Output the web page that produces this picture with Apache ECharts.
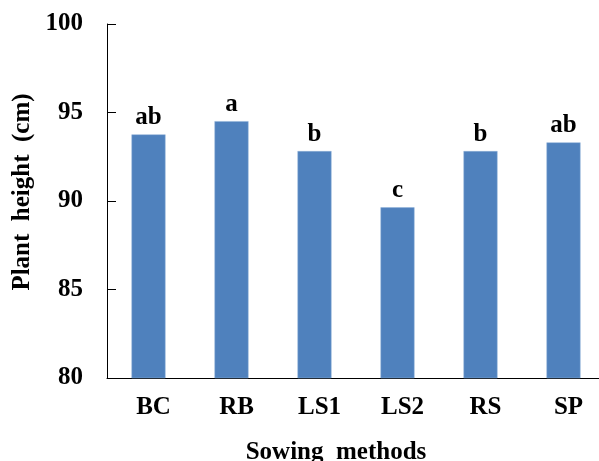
<!DOCTYPE html>
<html><head><meta charset="utf-8">
<script src="https://cdn.jsdelivr.net/npm/echarts@6/dist/echarts.min.js"></script>
<style>html,body{margin:0;padding:0;background:#fff}#c{width:599px;height:461px}</style>
</head><body><div id="c"></div>
<script>
var categories = ['BC', 'RB', 'LS1', 'LS2', 'RS', 'SP'];
var heights = [93.76, 94.51, 92.82, 89.64, 92.82, 93.31];
var letters = ['ab', 'a', 'b', 'c', 'b', 'ab'];
var yTicks = [80, 85, 90, 95, 100];

var font = '"Liberation Serif", "Times New Roman", serif';
var chart = echarts.init(document.getElementById('c'));
chart.setOption({
  animation: false,
  backgroundColor: '#fff',
  grid: { left: 107, top: 24, bottom: 83, right: -6, outerBoundsMode: 'none', containLabel: false },
  xAxis: {
    type: 'category',
    data: categories,
    name: 'Sowing  methods',
    nameLocation: 'middle',
    nameGap: 62,
    nameTextStyle: { fontFamily: font, fontWeight: 'bold', fontSize: 25, color: '#000', padding: [0, 40, 0, 0] },
    axisLine: { lineStyle: { color: '#000', width: 1 } },
    axisTick: { inside: true, length: 9, lineStyle: { color: '#000' } },
    axisLabel: { fontFamily: font, fontWeight: 'bold', fontSize: 25, color: '#000', margin: 17, padding: [0, 0, 0, 10] }
  },
  yAxis: {
    type: 'value',
    min: yTicks[0],
    max: yTicks[yTicks.length - 1],
    interval: 5,
    name: 'Plant  height  (cm)',
    nameLocation: 'middle',
    nameGap: 62,
    nameTextStyle: { fontFamily: font, fontWeight: 'bold', fontSize: 25, color: '#000', padding: [0, 0, 0, 18] },
    splitLine: { show: false },
    axisLine: { show: true, lineStyle: { color: '#000', width: 1 } },
    axisTick: { show: true, inside: true, length: 9, lineStyle: { color: '#000' } },
    axisLabel: { fontFamily: font, fontWeight: 'bold', fontSize: 25, color: '#000', margin: 24 }
  },
  series: [{
    type: 'bar',
    data: heights,
    barWidth: 34,
    itemStyle: { color: '#4F81BD', borderColor: '#8fb0d8', borderWidth: 0.5 },
    label: {
      show: true,
      position: 'top',
      distance: 4,
      fontFamily: font, fontWeight: 'bold', fontSize: 25, color: '#000',
      formatter: function (p) { return letters[p.dataIndex]; }
    }
  }]
});
</script></body></html>
